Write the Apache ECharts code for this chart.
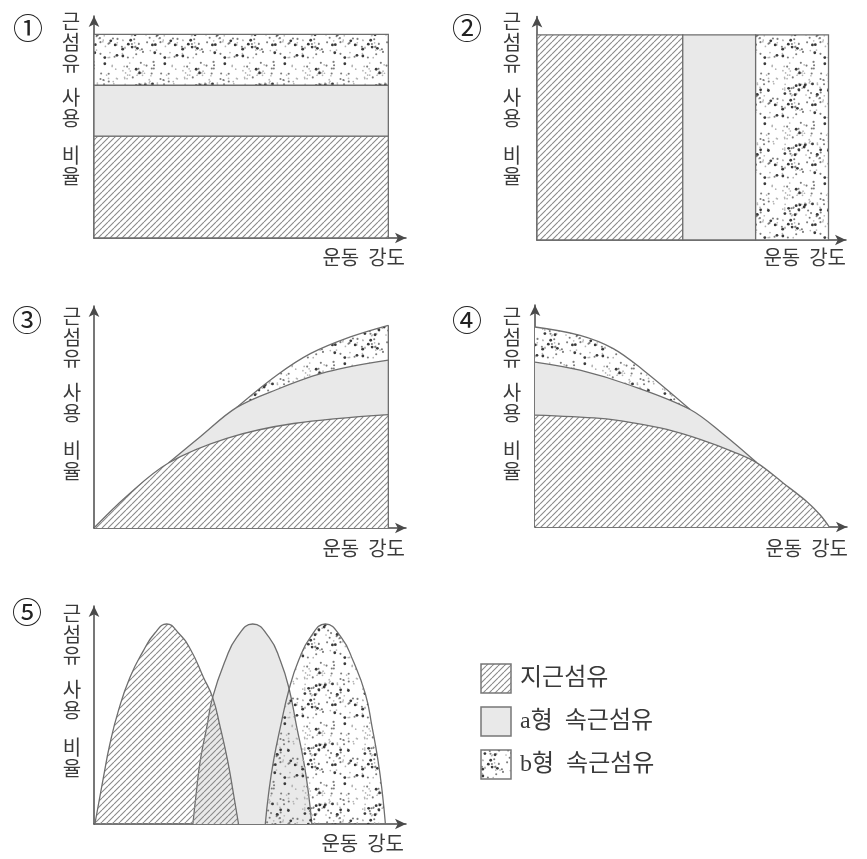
<!DOCTYPE html>
<html><head><meta charset="utf-8">
<script src="https://cdn.jsdelivr.net/npm/echarts@6/dist/echarts.min.js"></script>
<style>html,body{margin:0;padding:0;background:#fff}#c{width:867px;height:859px}</style>
</head><body><div id="c"></div>
<script>
// ---------- text ----------
const panelNumbers = ['①', '②', '③', '④', '⑤'];
const yAxisTitle = ['근섬유', '사용', '비율'];
const xAxisTitle = '운동  강도';
const legendNames = ['지근섬유', 'a형  속근섬유', 'b형  속근섬유'];

// ---------- data (x: 운동 강도 0-100, y: 사용 비율 0-100) ----------
// ① horizontal bands (y boundaries): 지근 | a형 | b형
const p1Bands = [0, 50, 75, 100];
const p1XRange = [0, 100];
// ② vertical bands (x boundaries): 지근 | a형 | b형
const p2Bands = [0, 50, 75, 100];
const p2YRange = [0, 100];
// ③ cumulative upper curves
const p3Slow  = [[0,0],[11,15.5],[25.3,31.9],[45.1,44.0],[67.8,51.3],[100,55.7]];
const p3FastA = [[25.3,31.9],[36.1,44.8],[48.5,59.2],[62.1,68.0],[79.1,76.6],[100,82.4]];
const p3FastB = [[48.5,59.2],[62.1,75.0],[73.5,85.6],[87.1,93.8],[100,99.5]];
// ④ cumulative upper curves
const p4Slow  = [[0,54.9],[22.1,53.3],[33.4,51.1],[44.8,47.9],[56.1,43.0],[67.4,36.9],[75.4,31.5],[84.5,21.4],[92.4,12.4],[96.9,5.9],[100,0]];
const p4FastA = [[0,81.0],[15.3,77.0],[32.3,69.6],[52.7,57.7],[64.1,45.4],[75.4,31.5]];
const p4FastB = [[0,98.2],[15.3,94.1],[26.6,87.6],[36.8,77.0],[52.7,57.7]];
// ⑤ three arches
const p5Slow  = [[0.3,0],[3.2,23.3],[5.4,40],[8.3,56.7],[12.2,73.3],[16.8,86.7],[20.7,95.5],[24.7,100],[28.7,95.5],[32.7,87.5],[37.2,73.3],[40.3,63.3],[42.9,48.3],[45.4,31.7],[47.4,15],[49.1,0]];
const p5FastA = [[33.6,0],[34.7,15],[36.1,31.7],[38.3,48.3],[40.3,63.3],[44.6,81.7],[48.5,93.3],[53.9,100],[59.5,93.3],[63.3,81.7],[66.3,67.5],[68.9,48.3],[71.2,31.7],[72.9,15],[74.0,0]];
const p5FastB = [[58.2,0],[59.3,15],[61.0,31.7],[63.3,48.3],[66.3,67.5],[69.5,81.7],[73.5,93.3],[78.6,100],[84.0,93.3],[88.0,81.7],[92.2,65],[94.5,48.3],[96.5,31.7],[98.0,15],[99.0,0]];

// ---------- styles ----------
const OUT = '#6e6e6e';
const AXIS = '#4a4a4a';
const GRAY = '#e9e9e9';
const TXT = '#3a3a3a';
const KFONT = '"Noto Sans CJK KR", "Noto Sans", sans-serif';

function makeHatch(bg) {
  const s = 6, c = document.createElement('canvas');
  c.width = c.height = s;
  const g = c.getContext('2d');
  if (bg) { g.fillStyle = bg; g.fillRect(0, 0, s, s); }
  g.strokeStyle = '#8a8a8a'; g.lineWidth = 1.1;
  g.beginPath();
  for (let k = -1; k <= 1; k++) { g.moveTo(k * s, s); g.lineTo(k * s + s, 0); }
  g.stroke();
  return { image: c, repeat: 'repeat' };
}
function makeDots(bg) {
  const s = 60, c = document.createElement('canvas');
  c.width = c.height = s;
  const g = c.getContext('2d');
  if (bg) { g.fillStyle = bg; g.fillRect(0, 0, s, s); }
  let a = 987654321;
  const nx = () => { a |= 0; a = a + 0x6D2B79F5 | 0; let t = Math.imul(a ^ a >>> 15, 1 | a); t = t + Math.imul(t ^ t >>> 7, 61 | t) ^ t; return ((t ^ t >>> 14) >>> 0) / 4294967296; };
  const dot = (r, col) => { g.fillStyle = col; g.beginPath(); g.arc(1.5 + nx() * (s - 3), 1.5 + nx() * (s - 3), r, 0, Math.PI * 2); g.fill(); };
  for (let i = 0; i < 80; i++) dot(0.85, '#b4b4b4');
  for (let i = 0; i < 45; i++) dot(1.05, '#7c7c7c');
  for (let i = 0; i < 28; i++) dot(1.4, '#3a3a3a');
  return { image: c, repeat: 'repeat' };
}
const hatchW = makeHatch('#ffffff'), hatchT = makeHatch(null);
const dotsW = makeDots('#ffffff'), dotsT = makeDots(null);

// ---------- layout ----------
const grids = [
  { left: 94,  top: 16,  width: 312, height: 222 },
  { left: 537, top: 16.5, width: 309, height: 223.5 },
  { left: 94,  top: 306, width: 312, height: 222 },
  { left: 535, top: 305, width: 312, height: 222 },
  { left: 94,  top: 606, width: 312, height: 218 }
];
const axisLine = { show: true, onZero: true, symbol: ['none', 'arrow'], symbolSize: [8, 11], lineStyle: { color: AXIS, width: 1.5 } };
const mkAxis = (i, max) => ({ type: 'value', gridIndex: i, min: 0, max: max, axisLine: axisLine, axisTick: { show: false }, axisLabel: { show: false }, splitLine: { show: false } });

function curve(gi, data, fill, z, sm) {
  return { type: 'line', xAxisIndex: gi, yAxisIndex: gi, data: data, smooth: sm || 0.35, symbol: 'none', showSymbol: false, silent: true, z: z,
    lineStyle: { color: OUT, width: 1.3 }, areaStyle: { color: fill, opacity: 1 } };
}
function edge(gi, data, z) {
  const last = data[data.length - 1];
  return { type: 'line', xAxisIndex: gi, yAxisIndex: gi, data: [[last[0], 0], [last[0], last[1]]], symbol: 'none', silent: true, z: z,
    lineStyle: { color: OUT, width: 1.3 } };
}
function bands(gi, areas) {
  return { type: 'line', xAxisIndex: gi, yAxisIndex: gi, data: [], symbol: 'none', silent: true,
    markArea: { silent: true, label: { show: false }, itemStyle: { borderColor: OUT, borderWidth: 1.3, opacity: 1 }, data: areas } };
}
const fills = [hatchW, GRAY, dotsW];
const p1Areas = fills.map((f, i) => [{ xAxis: p1XRange[0], yAxis: p1Bands[i], itemStyle: { color: f } }, { xAxis: p1XRange[1], yAxis: p1Bands[i + 1] }]);
const p2Areas = fills.map((f, i) => [{ xAxis: p2Bands[i], yAxis: p2YRange[0], itemStyle: { color: f } }, { xAxis: p2Bands[i + 1], yAxis: p2YRange[1] }]);

const series = [
  bands(0, p1Areas),
  bands(1, p2Areas),
  curve(2, p3FastB, dotsW, 2), curve(2, p3FastA, GRAY, 3), curve(2, p3Slow, hatchW, 4), edge(2, p3FastB, 5),
  curve(3, p4FastB, dotsW, 2), curve(3, p4FastA, GRAY, 3), curve(3, p4Slow, hatchW, 4),
  curve(4, p5FastA, GRAY, 2, 0.5), curve(4, p5Slow, hatchT, 3, 0.5), curve(4, p5FastB, dotsT, 4, 0.5)
];

// ---------- texts ----------
const numPos = [[28, 28], [467, 28], [27, 320], [467, 320], [27, 612]];
const yLabelPos = [[71, 11], [512, 11], [72, 306], [512, 306], [72, 603]];
const xLabelPos = [[405, 257], [846, 257], [405, 548], [848, 548], [404, 843]];
const blockOffsets = [0, 76, 134];
const graphic = [];
numPos.forEach((p, i) => graphic.push({ type: 'text', silent: true, style: { text: panelNumbers[i], x: p[0], y: p[1], align: 'center', verticalAlign: 'middle', fill: '#222', font: '30px ' + KFONT } }));
yLabelPos.forEach(p => yAxisTitle.forEach((w, j) => graphic.push({ type: 'text', silent: true, style: { text: w.split('').join('\n'), x: p[0], y: p[1] + blockOffsets[j], align: 'center', verticalAlign: 'top', lineHeight: 21, fill: TXT, font: '20px ' + KFONT } })));
xLabelPos.forEach(p => graphic.push({ type: 'text', silent: true, style: { text: xAxisTitle, x: p[0], y: p[1], align: 'right', verticalAlign: 'middle', fill: TXT, font: '20px ' + KFONT } }));
const legendFills = [hatchW, GRAY, dotsW];
const legendY = [664, 707, 750];
legendY.forEach((y, i) => {
  graphic.push({ type: 'rect', silent: true, shape: { x: 481, y: y, width: 30, height: 29 }, style: { fill: legendFills[i], stroke: '#777', lineWidth: 1.5 } });
  graphic.push({ type: 'text', silent: true, style: { text: legendNames[i], x: 520, y: y + 15, align: 'left', verticalAlign: 'middle', fill: TXT, font: '24px "Liberation Serif", ' + KFONT } });
});

const chart = echarts.init(document.getElementById('c'), null, { renderer: 'canvas' });
chart.setOption({
  animation: false,
  backgroundColor: '#ffffff',
  grid: grids,
  xAxis: grids.map((g, i) => mkAxis(i, 106)),
  yAxis: grids.map((g, i) => mkAxis(i, 109)),
  series: series,
  graphic: graphic
});
</script></body></html>
